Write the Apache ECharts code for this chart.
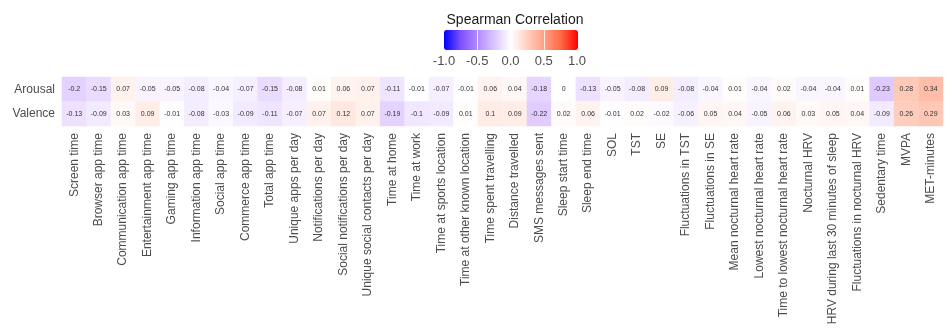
<!DOCTYPE html>
<html>
<head>
<meta charset="utf-8">
<script src="https://cdn.jsdelivr.net/npm/echarts@6/dist/echarts.min.js"></script>
<style>
  html, body { margin: 0; padding: 0; background: #fff; }
  #chart { width: 945px; height: 328px; }
</style>
</head>
<body>
<div id="chart"></div>
<script>
const features = [
  'Screen time', 'Browser app time', 'Communication app time', 'Entertainment app time',
  'Gaming app time', 'Information app time', 'Social app time', 'Commerce app time',
  'Total app time', 'Unique apps per day', 'Notifications per day', 'Social notifications per day',
  'Unique social contacts per day', 'Time at home', 'Time at work', 'Time at sports location',
  'Time at other known location', 'Time spent travelling', 'Distance travelled', 'SMS messages sent',
  'Sleep start time', 'Sleep end time', 'SOL', 'TST', 'SE', 'Fluctuations in TST',
  'Fluctuations in SE', 'Mean nocturnal heart rate', 'Lowest nocturnal heart rate',
  'Time to lowest nocturnal heart rate', 'Nocturnal HRV', 'HRV during last 30 minutes of sleep',
  'Fluctuations in nocturnal HRV', 'Sedentary time', 'MVPA', 'MET-minutes'
]
const outcomes = ['Arousal', 'Valence']

const arousal = [
  -0.2, -0.15, 0.07, -0.05, -0.05, -0.08, -0.04, -0.07, -0.15, -0.08, 0.01, 0.06,
  0.07, -0.11, -0.01, -0.07, -0.01, 0.06, 0.04, -0.18, 0, -0.13, -0.05, -0.08,
  0.09, -0.08, -0.04, 0.01, -0.04, 0.02, -0.04, -0.04, 0.01, -0.23, 0.28, 0.34
]
const valence = [
  -0.13, -0.09, 0.03, 0.09, -0.01, -0.08, -0.03, -0.09, -0.11, -0.07, 0.07, 0.12,
  0.07, -0.19, -0.1, -0.09, 0.01, 0.1, 0.09, -0.22, 0.02, 0.06, -0.01, 0.02,
  -0.02, -0.06, 0.05, 0.04, -0.05, 0.06, 0.03, 0.05, 0.04, -0.09, 0.26, 0.29
]

// blue - white - red, close to ggplot's Lab interpolation
const rampColors = ['#0000ff', '#7e51ff', '#b38bff', '#dcc5ff', '#ffffff', '#ffcfbf', '#ff9e81', '#ff6846', '#ff0000']

const cells = []
arousal.forEach((v, i) => cells.push([i, 0, v]))
valence.forEach((v, i) => cells.push([i, 1, v]))

const font = 'Liberation Sans, Arial, sans-serif'

const chart = echarts.init(document.getElementById('chart'))
chart.setOption({
  animation: false,
  textStyle: { fontFamily: font },
  title: {
    text: 'Spearman Correlation',
    left: 510,
    top: 8,
    textAlign: 'center',
    textStyle: { fontSize: 14, fontWeight: 'normal', color: '#1a1a1a', fontFamily: font }
  },
  grid: [
    { left: 62, top: 77, width: 881, height: 49 },
    { left: 444, top: 30, width: 133, height: 20 }
  ],
  xAxis: [
    {
      type: 'category',
      data: features,
      gridIndex: 0,
      axisLine: { show: false },
      axisTick: { show: false },
      splitLine: { show: false },
      axisLabel: {
        rotate: 90,
        interval: 0,
        fontSize: 12,
        color: '#4d4d4d',
        margin: 7,
        fontFamily: font
      }
    },
    {
      type: 'value',
      gridIndex: 1,
      min: -1,
      max: 1,
      interval: 0.5,
      z: 10,
      axisLine: { show: false },
      axisTick: { show: false },
      splitLine: {
        show: true,
        showMinLine: false,
        showMaxLine: false,
        lineStyle: { color: '#ffffff', width: 1, opacity: 0.8 }
      },
      axisLabel: {
        fontSize: 13,
        color: '#4d4d4d',
        margin: 5,
        fontFamily: font,
        formatter: v => v.toFixed(1)
      }
    }
  ],
  yAxis: [
    {
      type: 'category',
      data: outcomes,
      inverse: true,
      gridIndex: 0,
      axisLine: { show: false },
      axisTick: { show: false },
      splitLine: { show: false },
      axisLabel: { fontSize: 12, color: '#4d4d4d', margin: 7, fontFamily: font }
    },
    {
      type: 'value',
      gridIndex: 1,
      show: false
    }
  ],
  visualMap: {
    type: 'continuous',
    min: -1,
    max: 1,
    orient: 'horizontal',
    left: 429,
    top: 15,
    itemWidth: 20,
    itemHeight: 134,
    calculable: false,
    text: ['', ''],
    showLabel: false,
    seriesIndex: 0,
    inRange: { color: rampColors }
  },
  series: [
    {
      type: 'heatmap',
      xAxisIndex: 0,
      yAxisIndex: 0,
      data: cells,
      label: {
        show: true,
        fontSize: 7,
        color: '#333',
        fontFamily: font,
        formatter: p => String(p.value[2])
      },
      itemStyle: { borderWidth: 0 },
      emphasis: { disabled: true }
    },
    {
      type: 'scatter',
      xAxisIndex: 1,
      yAxisIndex: 1,
      data: [],
      silent: true
    }
  ]
})
</script>
</body>
</html>
